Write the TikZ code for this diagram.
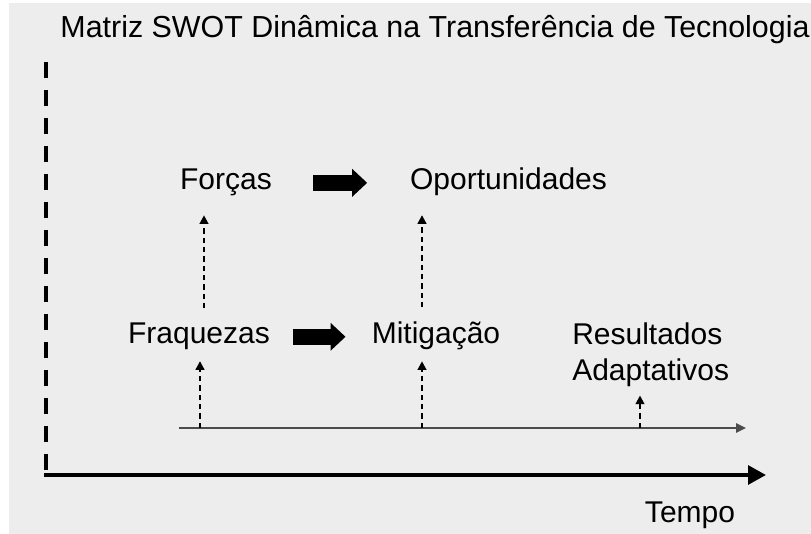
\documentclass[tikz,border=0pt]{standalone}
\usepackage{fontspec}
\setmainfont{Liberation Sans}
\usetikzlibrary{arrows.meta}
\definecolor{bggray}{RGB}{237,237,237}

\begin{document}
\begin{tikzpicture}[x=0.75pt,y=-0.75pt]
\tikzstyle{SWOT} = [inner sep=0pt, anchor=base, font=\fontsize{22.5}{27}\selectfont]
\tikzstyle{TITLE} = [inner sep=0pt, anchor=base, font=\fontsize{22.8}{26}\selectfont]

\tikzstyle{axis} = [line width=3pt, black]
\tikzstyle{timeline} = [line width=1.1pt, black!70, -{Triangle[length=7.5pt,width=7pt]}]
\tikzstyle{bigarrow} = [line width=12pt, -{Triangle[length=11.25pt,width=20.25pt]}]
\tikzstyle{dasharrow} = [line width=1.5pt, dash pattern=on 4pt off 3pt, -{Triangle[length=6.5pt,width=6.5pt]}, shorten >=8pt]

    % fundo
    \useasboundingbox (0,0) rectangle (811,534);
    \fill [bggray] (9,3) rectangle (811,534);

    \node (titulo) at (435,38) [TITLE] {Matriz SWOT Dinâmica na Transferência de Tecnologia};

    \node (forcas) at (226,190) [SWOT] {Forças};
    \node (oport) at (508.5,190) [SWOT] {Oportunidades};
    \node (fraq) at (199,344) [SWOT] {Fraquezas};
    \node (mitig) at (436,344) [SWOT] {Mitigação};
    \node (result) at (572,381) [SWOT, anchor=base west, align=left] {Resultados\\Adaptativos};
    \node (tempo) at (690,523) [SWOT] {Tempo};

    % eixos
    \coordinate (origem) at (46,475);
    \coordinate (topo) at (46,62);
    \coordinate (fim) at (766,475);
    \draw [axis, dash pattern=on 12pt off 9pt] (topo) -- (origem);
    \draw [axis, line cap=rect, -{Triangle[length=13.5pt,width=14pt]}] (origem) -- (fim);

    % linha do tempo
    \coordinate (t0) at (179,428);
    \coordinate (t1) at (746,428);
    \coordinate (c1) at (200,428);
    \coordinate (c2) at (422,428);
    \coordinate (c3) at (640,428);
    \coordinate (u1) at (204,428);
    \draw [timeline] (t0) -- (t1);

    \draw [dasharrow] (c1) -- (c1 |- fraq.south);
    \draw [dasharrow] (c2) -- (c2 |- mitig.south);
    \draw [dasharrow, shorten >=6pt] (c3) -- (c3 |- result.south);

    \draw [dasharrow, shorten <=11pt, shorten >=14pt] (fraq.north -| u1) -- (forcas.south -| u1);
    \draw [dasharrow, shorten <=11pt, shorten >=14pt] (mitig.north -| c2) -- (oport.south -| c2);

    \draw [bigarrow, shorten <=30.75pt, shorten >=32pt] (forcas.east) -- (forcas.east -| oport.west);
    \draw [bigarrow, shorten <=17pt, shorten >=19.5pt] (fraq.east) -- (fraq.east -| mitig.west);
\end{tikzpicture}
\end{document}
